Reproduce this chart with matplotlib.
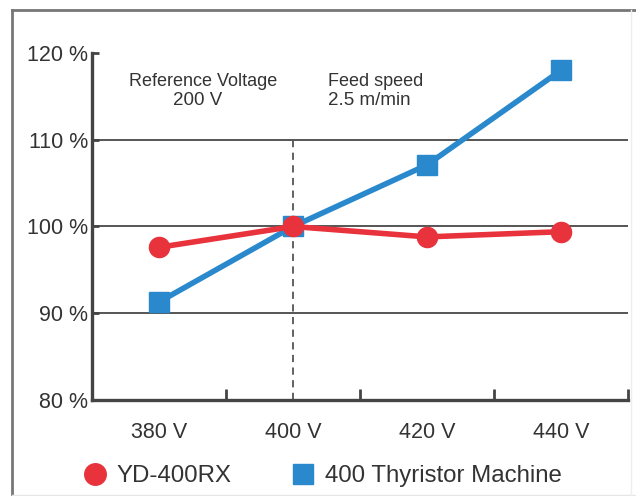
import matplotlib
matplotlib.use("Agg")
import matplotlib.pyplot as plt
from matplotlib.lines import Line2D

plt.rcParams['font.family'] = ['Liberation Sans', 'DejaVu Sans']

voltages = [380, 400, 420, 440]
x_labels = ["380 V", "400 V", "420 V", "440 V"]
yd400rx = [97.6, 100.0, 98.8, 99.4]
thyristor = [91.3, 100.0, 107.1, 118.0]
y_ticks = [80, 90, 100, 110, 120]
y_labels = ["80 %", "90 %", "100 %", "110 %", "120 %"]
series_names = ["YD-400RX", "400 Thyristor Machine"]

RED = "#e8333c"
BLUE = "#2a88cc"
TXT = "#333333"
AX = "#444444"

fig = plt.figure(figsize=(6.36, 4.96), dpi=100)
ax = fig.add_axes([92/636, 1-400/496, (628-92)/636, (400-53)/496])

# outer frame
fig.add_artist(Line2D([12/636, 1.0], [1-10/496, 1-10/496], transform=fig.transFigure,
                      color="#777777", lw=2))
fig.add_artist(Line2D([12/636, 12/636], [0, 1-10/496], transform=fig.transFigure,
                      color="#777777", lw=2))
fig.add_artist(Line2D([12/636, 1.0], [1/496, 1/496], transform=fig.transFigure,
                      color="#e6e6e6", lw=1))
fig.add_artist(Line2D([631/636, 631/636], [0, 1-10/496], transform=fig.transFigure,
                      color="#eeeeee", lw=1))

ax.set_xlim(370, 450)
ax.set_ylim(80, 120)

for yv in [90, 100, 110]:
    ax.axhline(yv, color="#555555", lw=1.4, zorder=1)
ax.plot([400, 400], [80, 110], color="#555555", lw=1.3, ls=(0, (4, 3)), zorder=1)

ax.plot(voltages, thyristor, color=BLUE, lw=4, marker="s", markersize=14,
        markerfacecolor=BLUE, markeredgecolor=BLUE, zorder=3, solid_capstyle='butt')
ax.plot(voltages, yd400rx, color=RED, lw=4, marker="o", markersize=14.5,
        markerfacecolor=RED, markeredgecolor=RED, zorder=4)

for s in ["top", "right"]:
    ax.spines[s].set_visible(False)
for s in ["left", "bottom"]:
    ax.spines[s].set_color(AX)
    ax.spines[s].set_linewidth(2.4)

ax.set_xticks(voltages)
ax.set_xticklabels(x_labels)
ax.set_xticks([390, 410, 430, 450], minor=True)
ax.tick_params(axis="x", which="major", length=0, pad=16, labelsize=15.5, labelcolor=TXT)
ax.tick_params(axis="x", which="minor", direction="in", length=8, width=2, color=AX)

ax.set_yticks(y_ticks)
ax.set_yticklabels(y_labels)
ax.tick_params(axis="y", which="major", direction="in", length=5, width=2, color=AX,
               pad=3, labelsize=15.5, labelcolor=TXT)

ax.text(386.6, 116.75, "Reference Voltage", ha="center", va="center", fontsize=13, color=TXT)
ax.text(385.8, 114.55, "200 V", ha="center", va="center", fontsize=13.5, color=TXT)
ax.text(405.2, 116.75, "Feed speed", ha="left", va="center", fontsize=13, color=TXT)
ax.text(405.2, 114.55, "2.5 m/min", ha="left", va="center", fontsize=13.5, color=TXT)

handles = [
    Line2D([], [], ls="none", marker="o", markersize=15.5, color=RED),
    Line2D([], [], ls="none", marker="s", markersize=14.5, color=BLUE),
]
fig.legend(handles, series_names, loc="center", bbox_to_anchor=(321/636, 1-476/496),
           ncol=2, frameon=False, fontsize=17.3, handletextpad=0.3, columnspacing=2.4,
           labelcolor=TXT, handlelength=1.2, borderpad=0)

fig.savefig("out.png", dpi=100, facecolor="white")
